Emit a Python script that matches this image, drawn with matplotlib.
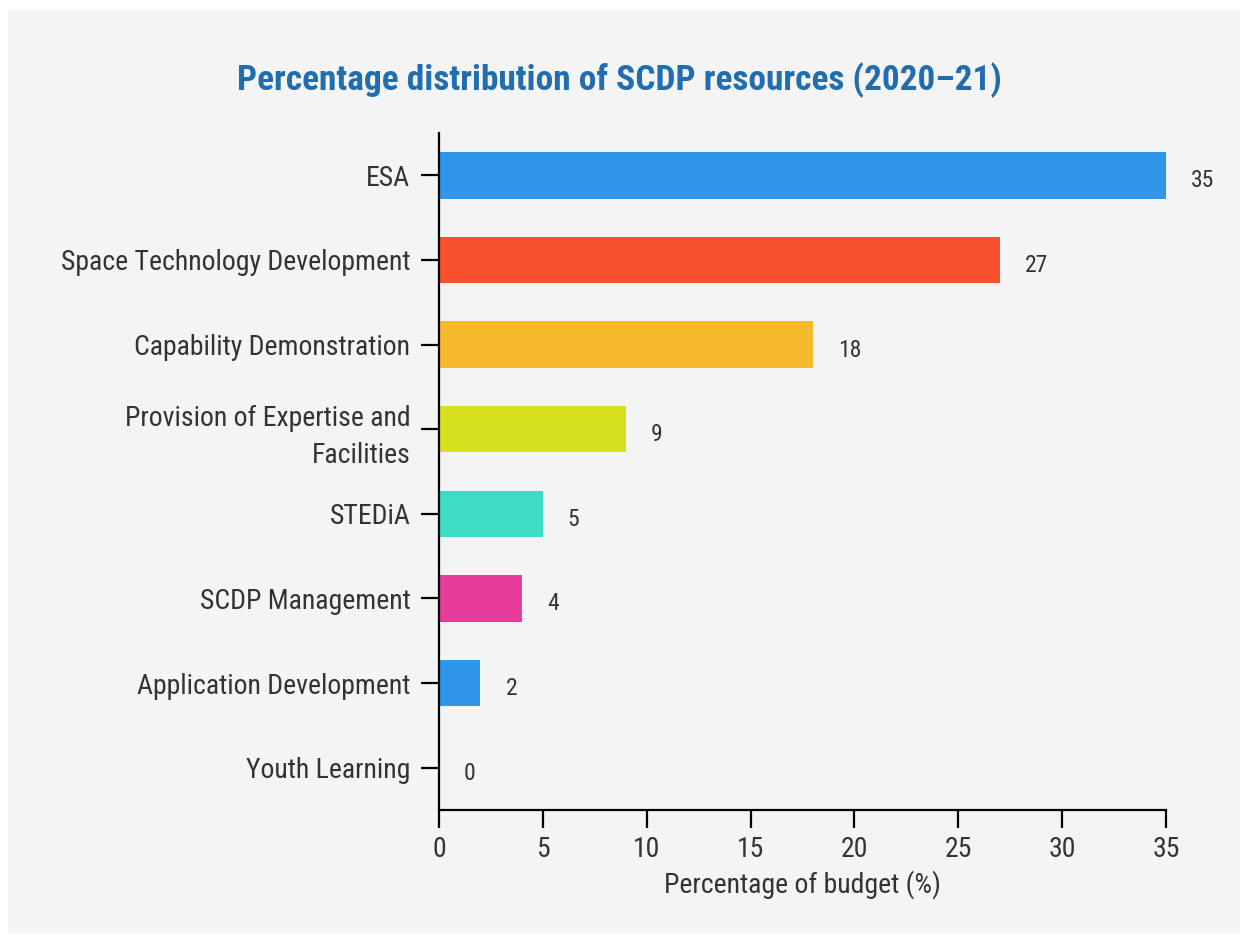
import matplotlib.pyplot as plt
from matplotlib import font_manager
from matplotlib.patches import Rectangle

names = {f.name for f in font_manager.fontManager.ttflist}
font = 'Roboto Condensed' if 'Roboto Condensed' in names else 'Roboto'
plt.rcParams['font.family'] = [font, 'DejaVu Sans']

categories = ['ESA', 'Space Technology Development', 'Capability Demonstration',
              'Provision of Expertise and\nFacilities', 'STEDiA', 'SCDP Management',
              'Application Development', 'Youth Learning']
values = [35, 27, 18, 9, 5, 4, 2, 0]
colors = ['#2F96EA', '#F7502D', '#F7B92D', '#D7E021', '#3DDCC4', '#E63C9A',
          '#2F96EA', '#2F96EA']

fig = plt.figure(figsize=(12.47, 9.41), dpi=100)
fig.patch.set_facecolor('white')
fig.patches.append(Rectangle((8/1247, 8/941), 1232/1247, 923/941,
                             transform=fig.transFigure, facecolor='#F4F4F4',
                             edgecolor='none', zorder=-10))

ax = fig.add_axes([0.352, 0.1392, 0.583, 0.7195])
ax.set_facecolor('#F4F4F4')
ypos = list(range(len(categories)))
ax.barh(ypos, values, height=0.55, color=colors)
ax.set_ylim(len(categories) - 0.5, -0.5)
ax.set_xlim(0, 35)
ax.set_xticks([0, 5, 10, 15, 20, 25, 30, 35])
ax.set_yticks(ypos)
ax.set_yticklabels(categories, ha='right', multialignment='right', linespacing=1.45)

for s in ['top', 'right']:
    ax.spines[s].set_visible(False)
for s in ['left', 'bottom']:
    ax.spines[s].set_linewidth(1.6)
    ax.spines[s].set_color('black')
ax.tick_params(axis='both', length=13, width=1.6, color='black',
               labelsize=20, labelcolor='#333333', pad=6)
ax.tick_params(axis='y', pad=7.5)

for y, v in zip(ypos, values):
    ax.annotate(str(v), (v, y), xytext=(18, -4), textcoords='offset points',
                va='center', ha='left', fontsize=17, color='#333333')

ax.set_xlabel('Percentage of budget (%)', fontsize=20, color='#333333', labelpad=5)
fig.text(0.497, 0.915, 'Percentage distribution of SCDP resources (2020\u201321)',
         ha='center', va='center', fontsize=25.5, fontweight='bold', color='#206EAF')

fig.savefig('out.png', dpi=100)
